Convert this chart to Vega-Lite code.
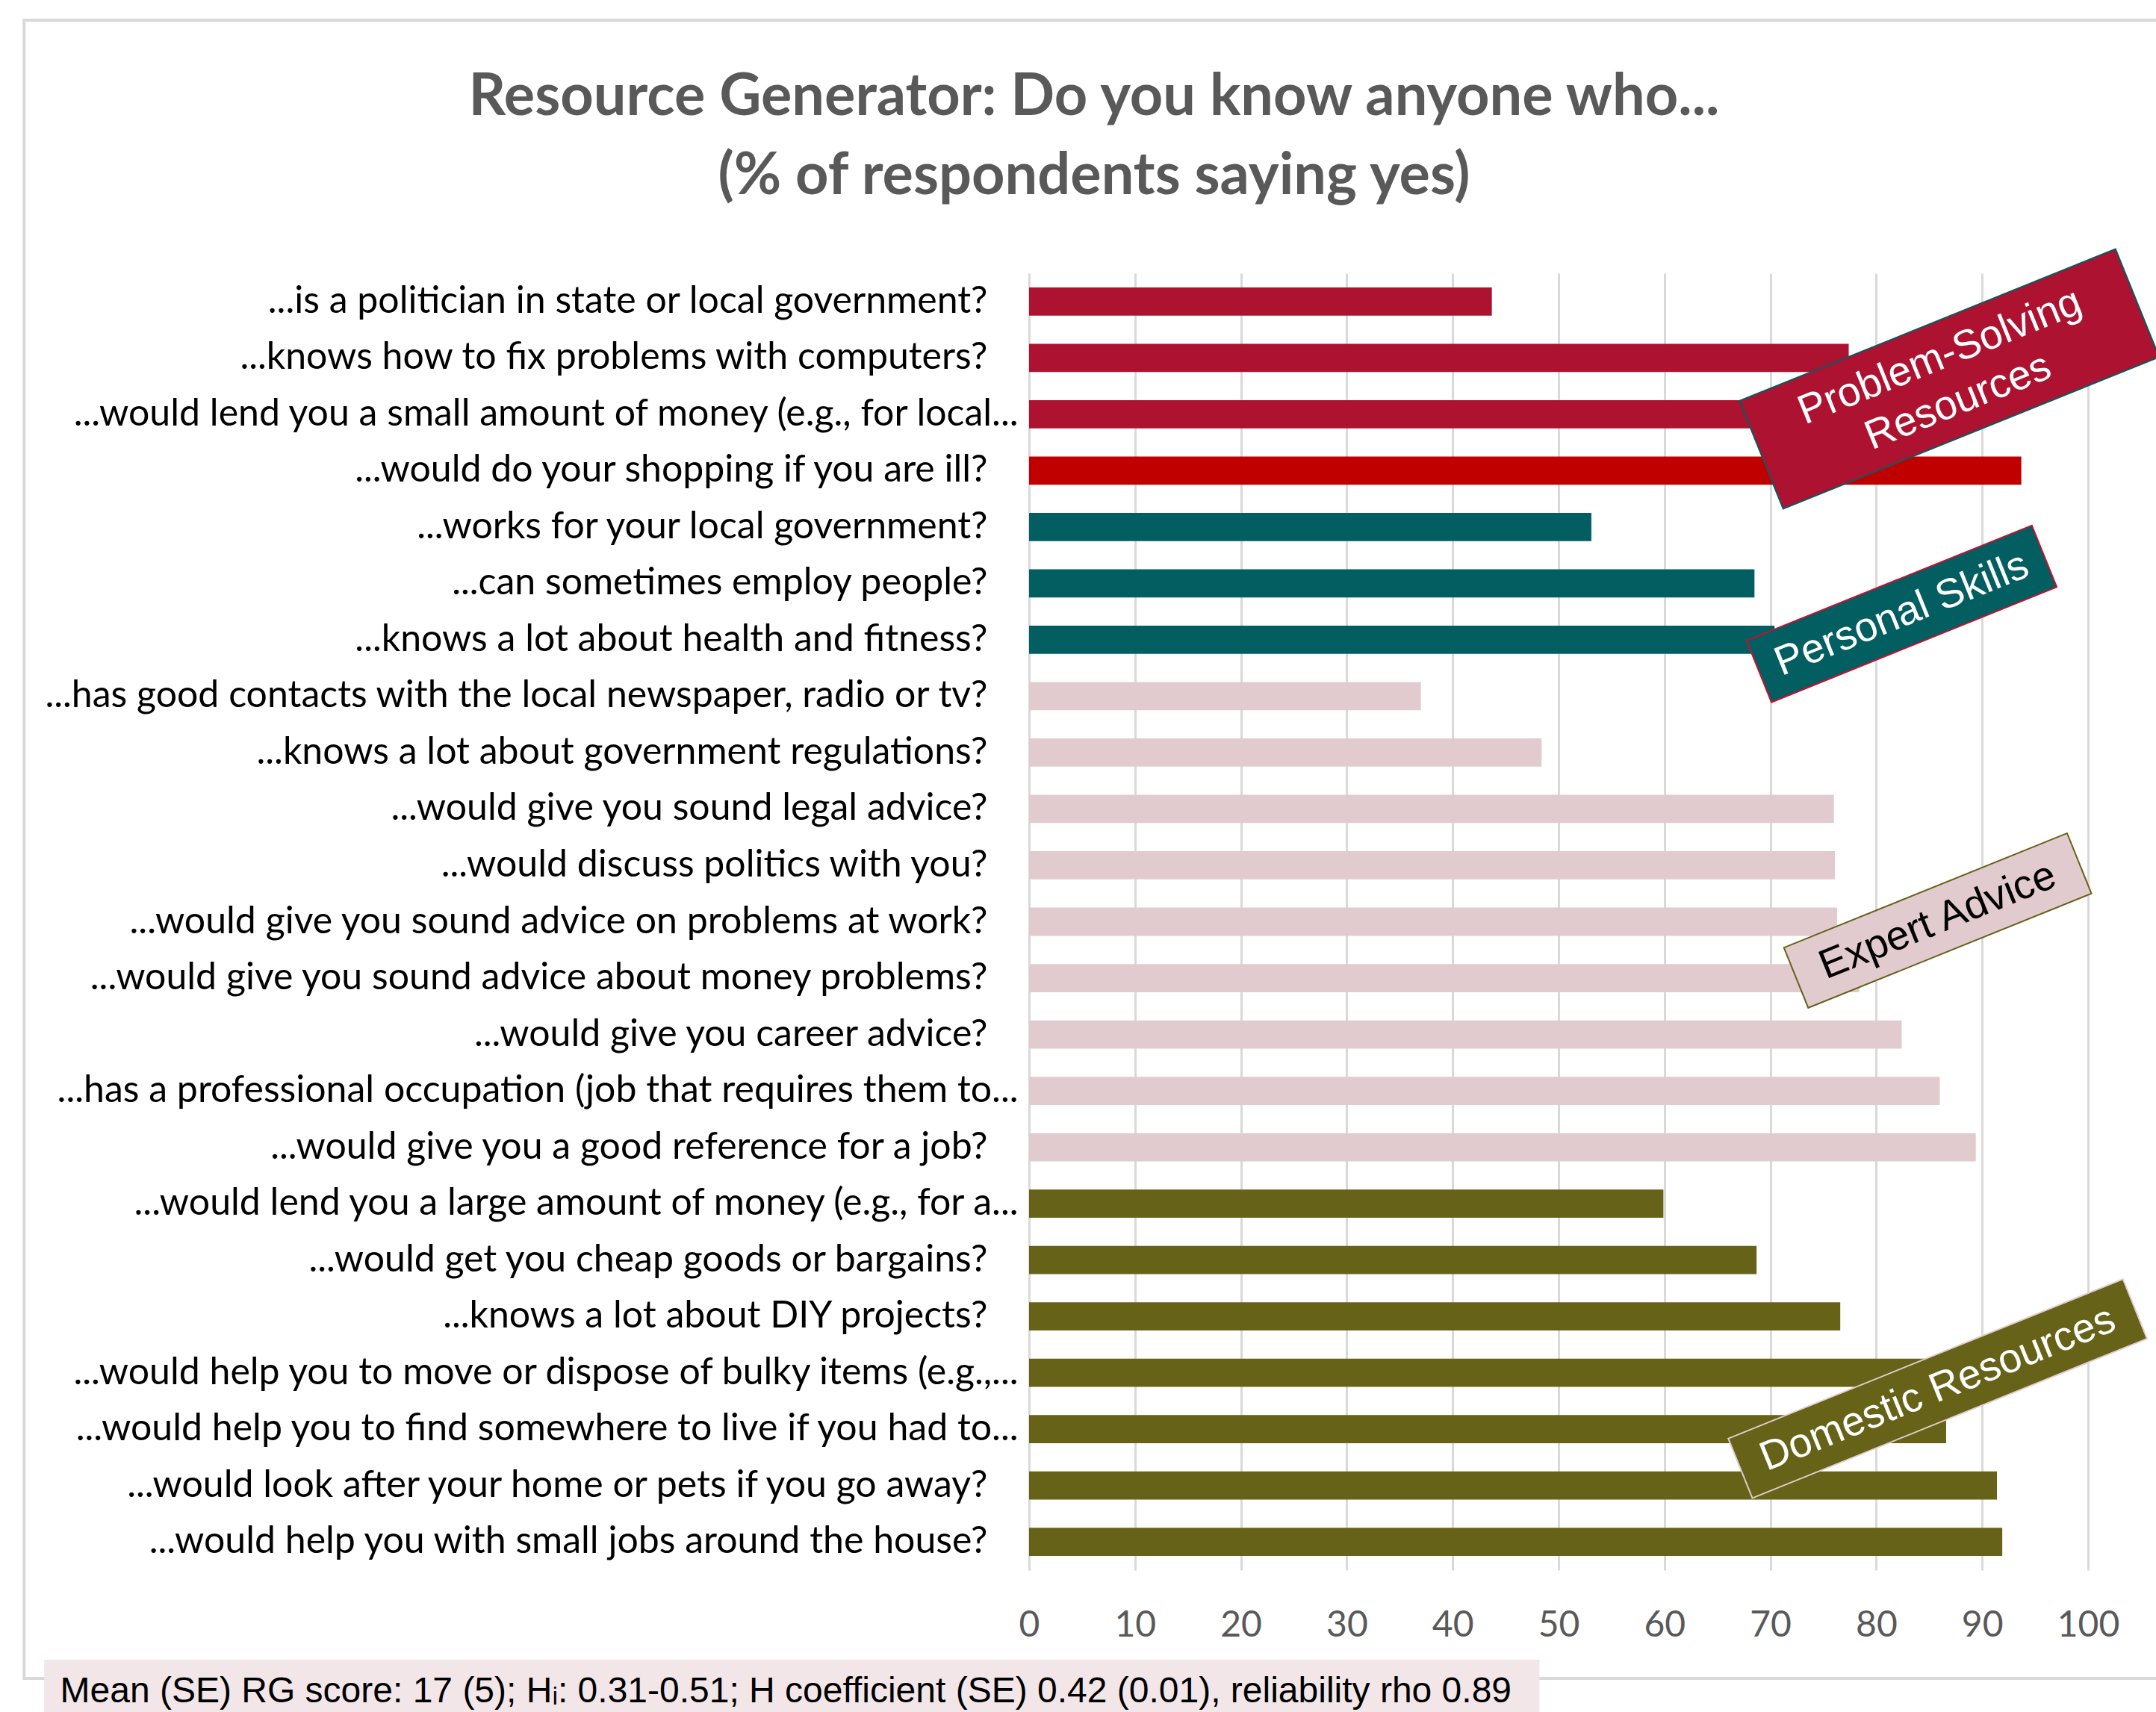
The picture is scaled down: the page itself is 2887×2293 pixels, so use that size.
{
  "$schema": "https://vega.github.io/schema/vega-lite/v6.json",
  "width": 1418,
  "height": 1737,
  "autosize": {"type": "none"},
  "padding": {"left": 1378, "top": 366, "right": 91, "bottom": 190},
  "background": "white",
  "title": {
    "text": ["Resource Generator: Do you know anyone who...", "(% of respondents saying yes)"],
    "font": "Lato",
    "fontSize": 77.5,
    "fontWeight": "bold",
    "color": "#595959",
    "lineHeight": 106,
    "anchor": "middle",
    "frame": "group",
    "baseline": "alphabetic",
    "dx": -622,
    "offset": -313
  },
  "datasets": {
    "items": [
      {"item": "...is a politician in state or local government?", "pct": 43.7, "group": "Problem-Solving Resources", "highlight": false},
      {"item": "...knows how to fix problems with computers?", "pct": 77.4, "group": "Problem-Solving Resources", "highlight": false},
      {"item": "...would lend you a small amount of money (e.g., for local...", "pct": 82, "group": "Problem-Solving Resources", "highlight": false},
      {"item": "...would do your shopping if you are ill?", "pct": 93.7, "group": "Problem-Solving Resources", "highlight": true},
      {"item": "...works for your local government?", "pct": 53.1, "group": "Personal Skills", "highlight": false},
      {"item": "...can sometimes employ people?", "pct": 68.5, "group": "Personal Skills", "highlight": false},
      {"item": "...knows a lot about health and fitness?", "pct": 70.4, "group": "Personal Skills", "highlight": false},
      {"item": "...has good contacts with the local newspaper, radio or tv?", "pct": 37.0, "group": "Expert Advice", "highlight": false},
      {"item": "...knows a lot about government regulations?", "pct": 48.4, "group": "Expert Advice", "highlight": false},
      {"item": "...would give you sound legal advice?", "pct": 76.0, "group": "Expert Advice", "highlight": false},
      {"item": "...would discuss politics with  you?", "pct": 76.1, "group": "Expert Advice", "highlight": false},
      {"item": "...would give you sound advice on problems at work?", "pct": 76.3, "group": "Expert Advice", "highlight": false},
      {"item": "...would give you sound advice about money problems?", "pct": 78.4, "group": "Expert Advice", "highlight": false},
      {"item": "...would give you career advice?", "pct": 82.4, "group": "Expert Advice", "highlight": false},
      {"item": "...has a professional occupation (job that requires them to...", "pct": 86.0, "group": "Expert Advice", "highlight": false},
      {"item": "...would give you a good reference for a job?", "pct": 89.4, "group": "Expert Advice", "highlight": false},
      {"item": "...would lend you a large amount of money (e.g., for a...", "pct": 59.9, "group": "Domestic Resources", "highlight": false},
      {"item": "...would get you cheap goods or bargains?", "pct": 68.7, "group": "Domestic Resources", "highlight": false},
      {"item": "...knows a lot about DIY projects?", "pct": 76.6, "group": "Domestic Resources", "highlight": false},
      {"item": "...would help you to move or dispose of bulky items (e.g.,...", "pct": 88, "group": "Domestic Resources", "highlight": false},
      {"item": "...would help you to find somewhere to live if you had to...", "pct": 86.6, "group": "Domestic Resources", "highlight": false},
      {"item": "...would look after your home or pets if you go away?", "pct": 91.4, "group": "Domestic Resources", "highlight": false},
      {"item": "...would help you with small jobs around the house?", "pct": 91.9, "group": "Domestic Resources", "highlight": false}
    ]
  },
  "layer": [
    {
      "data": {"name": "items"},
      "mark": {"type": "bar"},
      "encoding": {
        "y": {
          "field": "item", "type": "nominal", "sort": null,
          "scale": {"paddingInner": 0.5, "paddingOuter": 0.25},
          "axis": {
            "title": null, "ticks": false, "grid": false,
            "domainColor": "#D9D9D9", "domainWidth": 3,
            "labelFont": "Lato", "labelFontSize": 50, "labelColor": "#000000",
            "labelPadding": {"condition": {"test": "indexof(datum.label, '?') >= 0", "value": 56}, "value": 15},
            "labelLimit": 3000
          }
        },
        "x": {
          "field": "pct", "type": "quantitative",
          "scale": {"domain": [0, 100], "nice": false},
          "axis": {
            "title": null, "domain": false, "ticks": false, "grid": true,
            "gridColor": "#D9D9D9", "gridWidth": 3,
            "values": [0, 10, 20, 30, 40, 50, 60, 70, 80, 90, 100],
            "labelFont": "Lato", "labelFontSize": 48, "labelColor": "#595959",
            "labelPadding": 50, "labelFlush": false
          }
        },
        "color": {
          "condition": {"test": "datum.highlight", "value": "#C00000"},
          "field": "group", "type": "nominal", "legend": null,
          "scale": {
            "domain": ["Problem-Solving Resources", "Personal Skills", "Expert Advice", "Domestic Resources"],
            "range": ["#AD1230", "#035E62", "#E2CBCE", "#666318"]
          }
        }
      }
    },
    {
      "data": {"values": [{}]},
      "layer": [
        {
          "mark": {"type": "rect", "fill": null, "filled": false, "stroke": "#D9D9D9", "strokeWidth": 4},
          "encoding": {
            "x": {"datum": -94.9, "type": "quantitative", "scale": {"domain": [0, 100], "nice": false}},
            "x2": {"datum": 108},
            "y": {"datum": -4.49, "type": "quantitative", "axis": null, "scale": {"domain": [0, 23], "reverse": true, "nice": false, "zero": false}},
            "y2": {"datum": 24.92}
          }
        },
        {
          "mark": {"type": "point", "shape": "M-1,-0.2873L1,-0.2873L1,0.2873L-1,0.2873Z", "size": 294849, "angle": -22, "filled": true, "fill": "#AD1230", "stroke": "#035E62", "strokeWidth": 2, "opacity": 1},
          "encoding": {
            "x": {"datum": 86.9, "type": "quantitative", "scale": {"domain": [0, 100], "nice": false}},
            "y": {"datum": 1.874, "type": "quantitative", "axis": null, "scale": {"domain": [0, 23], "reverse": true, "nice": false, "zero": false}}
          }
        },
        {
          "mark": {"type": "text", "text": ["Problem-Solving", "Resources"], "font": "Liberation Sans", "fontSize": 55, "lineHeight": 65, "color": "#FFFFFF", "angle": -22, "align": "center", "baseline": "middle"},
          "encoding": {
            "x": {"datum": 86.0, "type": "quantitative", "scale": {"domain": [0, 100], "nice": false}},
            "y": {"datum": 1.475, "type": "quantitative", "axis": null, "scale": {"domain": [0, 23], "reverse": true, "nice": false, "zero": false}}
          }
        },
        {
          "mark": {"type": "point", "shape": "M-1,-0.216L1,-0.216L1,0.216L-1,0.216Z", "size": 169744, "angle": -22, "filled": true, "fill": "#035E62", "stroke": "#C8102E", "strokeWidth": 2, "opacity": 1},
          "encoding": {
            "x": {"datum": 82.4, "type": "quantitative", "scale": {"domain": [0, 100], "nice": false}},
            "y": {"datum": 6.04, "type": "quantitative", "axis": null, "scale": {"domain": [0, 23], "reverse": true, "nice": false, "zero": false}}
          }
        },
        {
          "mark": {"type": "text", "text": "Personal Skills", "font": "Liberation Sans", "fontSize": 55, "color": "#FFFFFF", "angle": -22, "align": "center", "baseline": "middle"},
          "encoding": {
            "x": {"datum": 82.4, "type": "quantitative", "scale": {"domain": [0, 100], "nice": false}},
            "y": {"datum": 6.04, "type": "quantitative", "axis": null, "scale": {"domain": [0, 23], "reverse": true, "nice": false, "zero": false}}
          }
        },
        {
          "mark": {"type": "point", "shape": "M-1,-0.2127L1,-0.2127L1,0.2127L-1,0.2127Z", "size": 167281, "angle": -22, "filled": true, "fill": "#E2CBCE", "stroke": "#666318", "strokeWidth": 2, "opacity": 1},
          "encoding": {
            "x": {"datum": 85.8, "type": "quantitative", "scale": {"domain": [0, 100], "nice": false}},
            "y": {"datum": 11.48, "type": "quantitative", "axis": null, "scale": {"domain": [0, 23], "reverse": true, "nice": false, "zero": false}}
          }
        },
        {
          "mark": {"type": "text", "text": "Expert Advice", "font": "Liberation Sans", "fontSize": 55, "color": "#000000", "angle": -22, "align": "center", "baseline": "middle"},
          "encoding": {
            "x": {"datum": 85.8, "type": "quantitative", "scale": {"domain": [0, 100], "nice": false}},
            "y": {"datum": 11.48, "type": "quantitative", "axis": null, "scale": {"domain": [0, 23], "reverse": true, "nice": false, "zero": false}}
          }
        },
        {
          "mark": {"type": "point", "shape": "M-1,-0.1509L1,-0.1509L1,0.1509L-1,0.1509Z", "size": 324900, "angle": -22, "filled": true, "fill": "#666318", "stroke": "#E2CBCE", "strokeWidth": 2, "opacity": 1},
          "encoding": {
            "x": {"datum": 85.8, "type": "quantitative", "scale": {"domain": [0, 100], "nice": false}},
            "y": {"datum": 19.78, "type": "quantitative", "axis": null, "scale": {"domain": [0, 23], "reverse": true, "nice": false, "zero": false}}
          }
        },
        {
          "mark": {"type": "text", "text": "Domestic Resources", "font": "Liberation Sans", "fontSize": 55, "color": "#FFFFFF", "angle": -22, "align": "center", "baseline": "middle"},
          "encoding": {
            "x": {"datum": 85.8, "type": "quantitative", "scale": {"domain": [0, 100], "nice": false}},
            "y": {"datum": 19.78, "type": "quantitative", "axis": null, "scale": {"domain": [0, 23], "reverse": true, "nice": false, "zero": false}}
          }
        },
        {
          "mark": {"type": "rect", "fill": "#F2E6E8"},
          "encoding": {
            "x": {"datum": -93.0, "type": "quantitative", "scale": {"domain": [0, 100], "nice": false}},
            "x2": {"datum": 48.2},
            "y": {"datum": 24.59, "type": "quantitative", "axis": null, "scale": {"domain": [0, 23], "reverse": true, "nice": false, "zero": false}},
            "y2": {"datum": 25.6}
          }
        },
        {
          "mark": {"type": "text", "text": "Mean (SE) RG score: 17 (5); Hᵢ: 0.31-0.51; H coefficient (SE) 0.42 (0.01), reliability rho 0.89", "font": "Liberation Sans", "fontSize": 48, "color": "#000000", "align": "left", "baseline": "alphabetic"},
          "encoding": {
            "x": {"datum": -91.5, "type": "quantitative", "scale": {"domain": [0, 100], "nice": false}},
            "y": {"datum": 25.34, "type": "quantitative", "axis": null, "scale": {"domain": [0, 23], "reverse": true, "nice": false, "zero": false}}
          }
        }
      ]
    }
  ],
  "resolve": {"scale": {"y": "independent"}, "axis": {"y": "independent"}},
  "config": {"view": {"stroke": null}}
}
